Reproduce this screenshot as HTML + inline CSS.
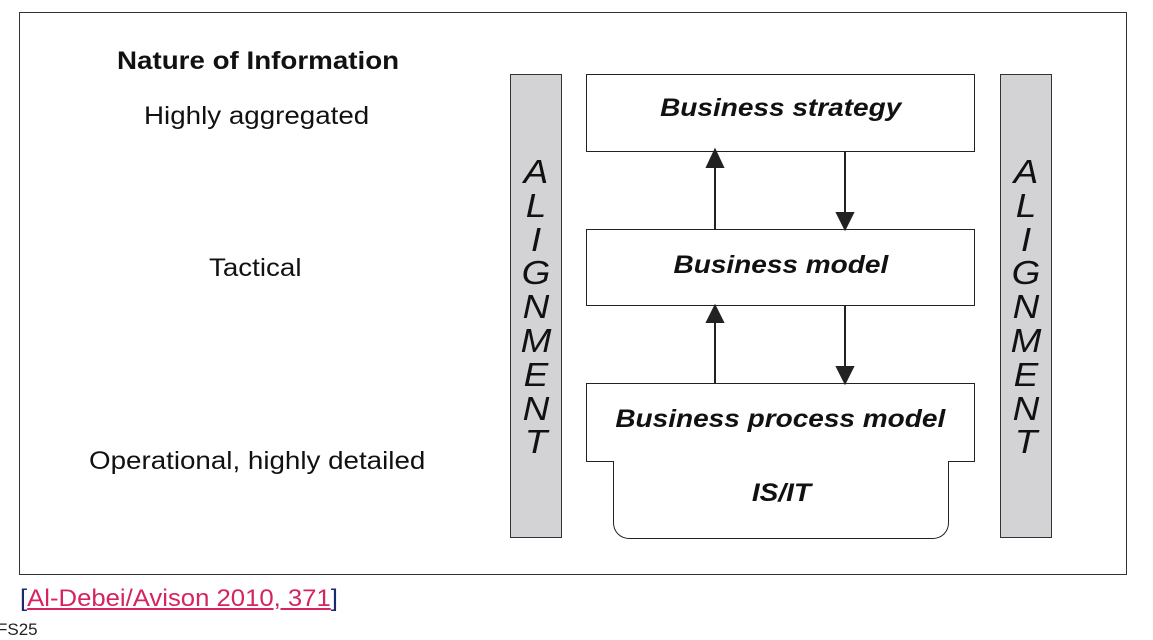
<!DOCTYPE html>
<html><head><style>
body{margin:0;background:#fff;width:1153px;height:637px;overflow:hidden;position:relative;font-family:"Liberation Sans",sans-serif;}
.a{position:absolute}
.box{position:absolute;border:1.5px solid #222;background:#fff;box-sizing:border-box;display:flex;align-items:center;justify-content:center;font-weight:bold;font-style:italic;font-size:25px;color:#111}
.box span{display:inline-block;transform:scaleX(1.12)}
.bar{position:absolute;background:#d3d3d5;border:1.5px solid #333;box-sizing:border-box;top:74px;height:464px;width:52px}
.letters{position:absolute;top:155px;width:52px;text-align:center;font-style:italic;font-size:33px;line-height:33.8px;color:#111;transform:scaleX(1.12)}
.lbl{position:absolute;font-size:25px;color:#111;transform:scaleX(1.11);transform-origin:0 0;white-space:nowrap}
</style></head><body>
<div class="a" style="left:19px;top:12px;width:1108px;height:563px;border:1.5px solid #333;box-sizing:border-box"></div>
<div class="lbl" style="left:117px;top:47px;font-weight:bold">Nature of Information</div>
<div class="lbl" style="left:144px;top:102px">Highly aggregated</div>
<div class="lbl" style="left:209px;top:254px">Tactical</div>
<div class="lbl" style="left:89px;top:447px">Operational, highly detailed</div>

<div class="bar" style="left:510px"></div>
<div class="bar" style="left:1000px"></div>
<div class="letters" style="left:510px">A<br>L<br>I<br>G<br>N<br>M<br>E<br>N<br>T</div>
<div class="letters" style="left:1000px">A<br>L<br>I<br>G<br>N<br>M<br>E<br>N<br>T</div>

<div class="box" style="left:586px;top:74px;width:389px;height:78px;padding-bottom:10px"><span>Business strategy</span></div>
<div class="box" style="left:586px;top:229px;width:389px;height:77px;padding-bottom:4px"><span>Business model</span></div>
<div class="box" style="left:586px;top:383px;width:389px;height:79px;padding-bottom:6px"><span>Business process model</span></div>
<div class="box" style="left:613px;top:461px;width:336px;height:78px;border-radius:0 0 16px 16px;border-top:none;padding-bottom:12px"><span>IS/IT</span></div>

<svg class="a" style="left:0;top:0" width="1153" height="637">
<g stroke="#222" stroke-width="2" fill="#222">
<line x1="715" y1="229" x2="715" y2="165"/><polygon points="707,167 723,167 715,150"/>
<line x1="845" y1="152" x2="845" y2="215"/><polygon points="837,213 853,213 845,229"/>
<line x1="715" y1="383" x2="715" y2="320"/><polygon points="707,322 723,322 715,306"/>
<line x1="845" y1="306" x2="845" y2="369"/><polygon points="837,367 853,367 845,383"/>
</g></svg>

<div class="a" style="left:20px;top:585px;font-size:24px;color:#1a2a6c;transform:scaleX(1.07);transform-origin:0 0;white-space:nowrap">[<span style="color:#d6245e;text-decoration:underline">Al-Debei/Avison 2010, 371</span>]</div>
<div class="a" style="left:-3px;top:620px;font-size:17px;color:#222">FS25</div>
</body></html>
